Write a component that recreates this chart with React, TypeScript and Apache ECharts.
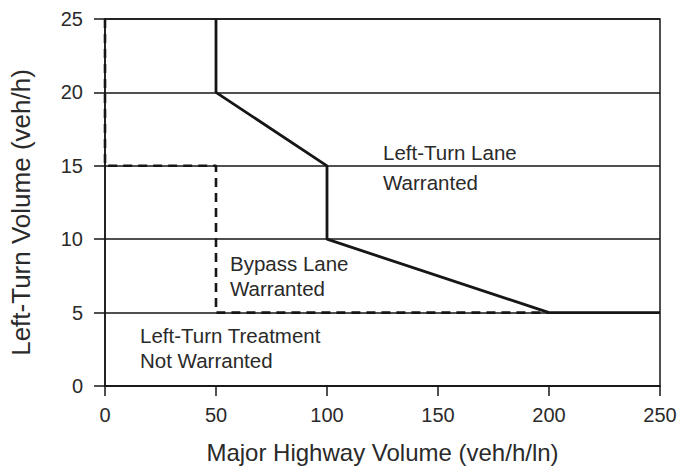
import React, { useEffect, useRef } from "react";
import * as echarts from "echarts";

const xTicks = [0, 50, 100, 150, 200, 250];
const yTicks = [0, 5, 10, 15, 20, 25];
const leftTurnLaneBoundary: [number, number][] = [
  [50, 25],
  [50, 20],
  [100, 15],
  [100, 10],
  [200, 5],
  [250, 5],
];
const bypassLaneBoundary: [number, number][] = [
  [0, 25],
  [0, 15],
  [50, 15],
  [50, 5],
  [200, 5],
];
const regionLabels = [
  "Left-Turn Lane\nWarranted",
  "Bypass Lane\nWarranted",
  "Left-Turn Treatment\nNot Warranted",
];
const xTitle = "Major Highway Volume (veh/h/ln)";
const yTitle = "Left-Turn Volume (veh/h)";

const FONT = "'Liberation Sans', Arial, Helvetica, sans-serif";
const TEXT = "#2a2a2a";
const LINE = "#161616";

export default function App() {
  const ref = useRef<HTMLDivElement>(null);
  useEffect(() => {
    if (!ref.current) return;
    const chart = echarts.init(ref.current, null, { renderer: "svg" });
    chart.setOption({
      animation: false,
      backgroundColor: "#ffffff",
      grid: {
        left: 105,
        right: 18,
        top: 19,
        bottom: 82,
        containLabel: false,
        outerBoundsMode: "none",
        show: true,
        borderColor: LINE,
        borderWidth: 1.5,
        backgroundColor: "transparent",
      },
      xAxis: {
        type: "value",
        min: xTicks[0],
        max: xTicks[xTicks.length - 1],
        interval: 50,
        name: xTitle,
        nameLocation: "middle",
        nameGap: 54,
        nameTextStyle: { fontSize: 24, fontFamily: FONT, color: TEXT },
        axisLine: { show: true, lineStyle: { color: LINE, width: 1.5 } },
        axisTick: { show: true, length: 10, lineStyle: { color: LINE, width: 1.5 } },
        axisLabel: { fontSize: 20, fontFamily: FONT, color: TEXT, margin: 19 },
        splitLine: { show: false },
      },
      yAxis: {
        type: "value",
        min: yTicks[0],
        max: yTicks[yTicks.length - 1],
        interval: 5,
        name: yTitle,
        nameLocation: "middle",
        nameGap: 71,
        nameTextStyle: {
          fontSize: 26,
          fontFamily: FONT,
          color: TEXT,
          padding: [0, 20, 0, 0],
        },
        axisLine: { show: true, lineStyle: { color: LINE, width: 1.5 } },
        axisTick: { show: true, length: 11, lineStyle: { color: LINE, width: 1.5 } },
        axisLabel: { fontSize: 20, fontFamily: FONT, color: TEXT, margin: 22 },
        splitLine: { show: true, lineStyle: { color: LINE, width: 1.5 } },
      },
      series: [
        {
          type: "line",
          data: bypassLaneBoundary,
          symbol: "none",
          lineStyle: { color: LINE, width: 2.6, type: [9, 6] },
          z: 3,
        },
        {
          type: "line",
          data: leftTurnLaneBoundary,
          symbol: "none",
          lineStyle: { color: LINE, width: 2.8 },
          z: 4,
        },
      ],
      graphic: [
        {
          type: "text",
          x: 383,
          y: 137,
          style: {
            text: regionLabels[0],
            fontSize: 20.5,
            fontFamily: FONT,
            fill: TEXT,
            lineHeight: 30,
            textVerticalAlign: "top",
          },
        },
        {
          type: "text",
          x: 230,
          y: 250.5,
          style: {
            text: regionLabels[1],
            fontSize: 20.5,
            fontFamily: FONT,
            fill: TEXT,
            lineHeight: 25,
            textVerticalAlign: "top",
          },
        },
        {
          type: "text",
          x: 140,
          y: 322.5,
          style: {
            text: regionLabels[2],
            fontSize: 20.5,
            fontFamily: FONT,
            fill: TEXT,
            lineHeight: 25,
            textVerticalAlign: "top",
          },
        },
      ],
    });
    return () => chart.dispose();
  }, []);
  return <div ref={ref} style={{ width: 678, height: 468, position: "fixed", left: 0, top: 0 }} />;
}
